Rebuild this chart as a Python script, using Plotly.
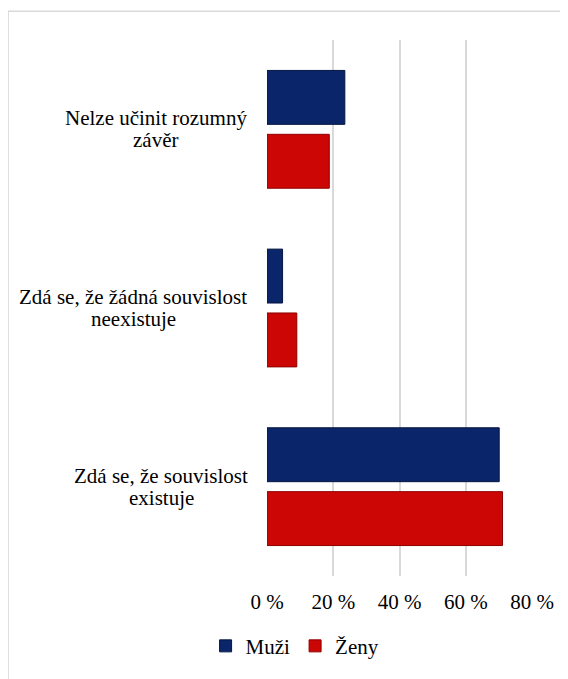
import plotly.graph_objects as go

# Data (percent), categories listed top to bottom
categories = ["Nelze učinit rozumný závěr",
              "Zdá se, že žádná souvislost neexistuje",
              "Zdá se, že souvislost existuje"]
label_lines = [["Nelze učinit rozumný", "závěr"],
               ["Zdá se, že žádná souvislost", "neexistuje"],
               ["Zdá se, že souvislost", "existuje"]]
muzi = [23.5, 4.7, 70.1]
zeny = [18.8, 9.0, 71.1]
tick_vals = [0, 20, 40, 60, 80]
tick_text = ["0 %", "20 %", "40 %", "60 %", "80 %"]

FONT = "Liberation Serif"
FS = 21

fig = go.Figure()
fig.add_trace(go.Bar(y=categories, x=muzi, name="Muži", orientation="h",
                     marker=dict(color="#0A2569", line=dict(color="#05173F", width=1))))
fig.add_trace(go.Bar(y=categories, x=zeny, name="Ženy", orientation="h",
                     marker=dict(color="#CC0505", line=dict(color="#8E0000", width=1))))

# category labels: two centred lines each, tighter line spacing than plotly's default
label_centres = [-0.42, -0.505, -0.40]  # paper x of each label block centre
for c, lines, xc in zip(categories, label_lines, label_centres):
    for line, shift in zip(lines, [11, -11]):
        fig.add_annotation(x=xc, xref="paper", y=c, yref="y", yshift=shift, text=line,
                           showarrow=False, xanchor="center", yanchor="middle",
                           font=dict(family=FONT, size=FS, color="#000000"))

# light grey chart border (runs off right and bottom edge)
fig.add_shape(type="rect", xref="paper", yref="paper",
              x0=-0.977, x1=1.2, y0=-0.25, y1=1.0536,
              line=dict(color="#D9D9D9", width=1.5), layer="below")

# page body has an 8px margin, so the figure is 8px smaller than the window
fig.update_layout(
    width=560, height=671,
    margin=dict(l=259, r=36, t=32, b=98),
    plot_bgcolor="white", paper_bgcolor="white",
    barmode="group", bargap=0.285, bargroupgap=0.156,
    font=dict(family=FONT, size=FS, color="#000000"),
    legend=dict(orientation="h", x=0.106, xanchor="center", y=-0.131, yanchor="middle",
                font=dict(family=FONT, size=FS), itemwidth=30, traceorder="normal"),
)
fig.update_xaxes(range=[0, 80], tickvals=tick_vals, ticktext=tick_text,
                 showgrid=True, gridcolor="#D9D9D9", gridwidth=1.5,
                 zeroline=False, showline=False, ticks="", ticklabelstandoff=11,
                 tickfont=dict(family=FONT, size=FS))
fig.update_yaxes(categoryorder="array", categoryarray=categories, autorange="reversed",
                 showticklabels=False, showgrid=False, zeroline=False, showline=False, ticks="")

fig.write_html("out.html")
